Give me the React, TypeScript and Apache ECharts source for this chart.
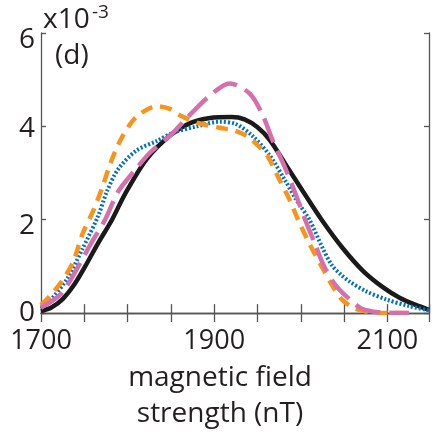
import React, { useEffect, useRef } from "react";
import * as echarts from "echarts";

// x tick labels shown: 1700, 1900, 2100 ; y tick labels: 0, 2, 4, 6 (x10^-3)
const xLabelValues = [1700, 1900, 2100];
const yLabelValues = [0, 2, 4, 6];

const blackX = [1700, 1712, 1725, 1738, 1751, 1766, 1782, 1797, 1822, 1850, 1872, 1895, 1920, 1935, 1950, 1964, 1983, 2002, 2024, 2048, 2072, 2095, 2114, 2132, 2148];
const blackY = [0.04, 0.12, 0.3, 0.6, 1.0, 1.5, 2.0, 2.55, 3.3, 3.82, 4.07, 4.18, 4.2, 4.15, 3.98, 3.71, 3.17, 2.62, 2.0, 1.4, 0.9, 0.55, 0.33, 0.18, 0.07];

const blueX = [1700, 1712, 1731, 1748, 1766, 1776, 1789, 1810, 1834, 1852, 1880, 1906, 1925, 1944, 1964, 1981, 1995, 2010, 2025, 2036, 2046, 2056, 2075, 2099, 2125, 2148];
const blueY = [0.1, 0.3, 0.76, 1.38, 2.08, 2.6, 3.08, 3.48, 3.69, 3.86, 4.0, 4.1, 4.05, 3.8, 3.38, 2.87, 2.42, 2.0, 1.4, 1.02, 0.83, 0.68, 0.47, 0.29, 0.15, 0.06];

const orangeX = [1700, 1712, 1725, 1737, 1748, 1760, 1770, 1780, 1793, 1810, 1834, 1848, 1862, 1880, 1906, 1922, 1937, 1950, 1962, 1975, 1987, 1998, 2011, 2024, 2036, 2047, 2062, 2080, 2100, 2132];
const orangeY = [0.17, 0.4, 0.71, 1.09, 1.7, 2.18, 2.65, 3.2, 3.75, 4.2, 4.43, 4.38, 4.22, 4.08, 3.97, 3.92, 3.8, 3.6, 3.35, 2.87, 2.43, 1.95, 1.45, 1.0, 0.6, 0.3, 0.1, 0.02, 0, 0];

const pinkX = [1700, 1712, 1725, 1743, 1758, 1774, 1789, 1808, 1826, 1850, 1868, 1895, 1918, 1941, 1956, 1967, 1981, 1993, 2005, 2016, 2027, 2040, 2056, 2070, 2090, 2125];
const pinkY = [0.12, 0.25, 0.45, 1.0, 1.5, 2.0, 2.6, 3.05, 3.44, 3.82, 4.17, 4.66, 4.92, 4.7, 4.24, 3.72, 3.15, 2.6, 2.0, 1.5, 1.0, 0.6, 0.3, 0.1, 0.02, 0];

const zip = (xs: number[], ys: number[]) => xs.map((x, i) => [x, ys[i]]);

const FONT = "Open Sans";
const TEXT = "#231f20";
const AXIS = "#555555";

export default function App() {
  const ref = useRef<HTMLDivElement>(null);
  useEffect(() => {
    if (!ref.current) return;
    const chart = echarts.init(ref.current, undefined, { renderer: "svg" });
    const xBase = {
      type: "value" as const,
      min: 1700,
      max: 2148,
      interval: 50,
      splitLine: { show: false },
      axisLine: { show: true, lineStyle: { color: AXIS, width: 1.3 } },
      axisTick: { show: true, inside: true, length: 9, lineStyle: { color: AXIS, width: 1.3 } },
    };
    const yBase = {
      type: "value" as const,
      min: 0,
      max: 6,
      interval: 2,
      splitLine: { show: false },
      axisLine: { show: true, lineStyle: { color: AXIS, width: 1.3 } },
      axisTick: { show: true, inside: true, length: 5, lineStyle: { color: AXIS, width: 1.3 } },
    };
    const line = (data: number[][], color: string, width: number, type: any, z: number) => ({
      type: "line",
      data,
      showSymbol: false,
      smooth: 0.3,
      z,
      clip: true,
      lineStyle: { color, width, type, cap: "butt" },
    });
    const yLab = { fontFamily: FONT, fontSize: 28, color: TEXT };
    chart.setOption({
      animation: false,
      textStyle: { fontFamily: FONT },
      grid: { left: 41, top: 33, width: 388, height: 286, containLabel: false },
      xAxis: [
        {
          ...xBase,
          position: "bottom",
          name: "magnetic field\nstrength (nT)",
          nameLocation: "middle",
          nameGap: 40,
          nameTextStyle: { fontFamily: FONT, fontSize: 28, color: TEXT, lineHeight: 36, padding: [0, 30, 0, 0] },
          axisLabel: {
            fontFamily: FONT,
            fontSize: 27,
            color: TEXT,
            margin: 12,
            formatter: (v: number) => (xLabelValues.includes(v) ? String(v) : ""),
          },
        },
        {
          ...xBase,
          position: "top",
          axisLabel: { show: false },
        },
      ],
      yAxis: [
        {
          ...yBase,
          position: "left",
          axisLabel: {
            fontFamily: FONT,
            fontSize: 28,
            color: TEXT,
            margin: 6,
            formatter: (v: number) => {
              if (!yLabelValues.includes(v)) return "";
              if (v === 6) return "{d|6}";
              if (v === 2) return "{e|2}";
              if (v === 0) return "{u|0}";
              return "{n|" + v + "}";
            },
            rich: {
              d: { ...yLab, padding: [8, 0, 0, 0] },
              e: { ...yLab, padding: [6, 0, 0, 0] },
              u: { ...yLab, padding: [0, 0, 6, 0] },
              n: { ...yLab },
            },
          },
        },
        {
          ...yBase,
          position: "right",
          axisLabel: { show: false },
        },
      ],
      graphic: [
        {
          type: "text",
          left: 43,
          top: 3,
          style: { text: "x10", fontFamily: FONT, fontSize: 28, fill: TEXT },
        },
        {
          type: "text",
          left: 92,
          top: 1,
          style: { text: "-3", fontFamily: FONT, fontSize: 19, fill: TEXT },
        },
        {
          type: "text",
          left: 55,
          top: 39,
          style: { text: "(d)", fontFamily: FONT, fontSize: 28, fill: TEXT },
        },
      ],
      series: [
        line(zip(blackX, blackY), "#1a1a1a", 4.5, "solid", 2),
        line(zip(blueX, blueY), "#0072bd", 4, [2, 2], 3),
        line(zip(orangeX, orangeY), "#f7941d", 4.5, [12, 8], 4),
        line(zip(pinkX, pinkY), "#d670ad", 4.5, [26, 9], 5),
      ],
    });
    return () => chart.dispose();
  }, []);
  return <div ref={ref} style={{ position: "fixed", left: 0, top: 0, width: 432, height: 434 }} />;
}
